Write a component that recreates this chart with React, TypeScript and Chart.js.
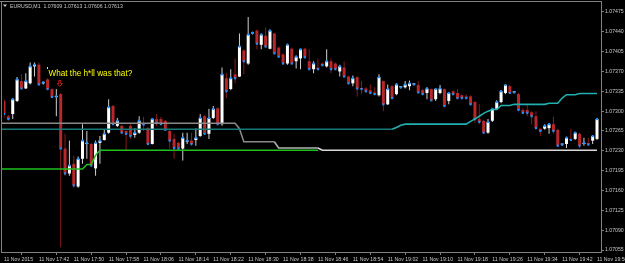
import React, { useEffect, useRef } from "react";
import { Chart, registerables } from "chart.js";

Chart.register(...registerables);

// ---- EURUSD M1 candles (bar 0 = 11 Nov 2015 17:34) ----
const candleOpen = [
  1.07318, 1.07291, 1.07295, 1.07318, 1.07353, 1.0734, 1.07349, 1.07379, 1.07382, 1.07349,
  1.07356, 1.07339, 1.07325, 1.0733, 1.07234, 1.0719, 1.07207, 1.07167, 1.07216, 1.07242,
  1.07242, 1.07199, 1.07244, 1.07249, 1.07262, 1.07309, 1.07274, 1.07274, 1.07265, 1.07274,
  1.07258, 1.07262, 1.07279, 1.0727, 1.07242, 1.07286, 1.07286, 1.07283, 1.07265, 1.07251,
  1.07244, 1.07234, 1.07246, 1.07248, 1.07249, 1.07256, 1.07291, 1.0726, 1.07288, 1.07305,
  1.07277, 1.07358, 1.07339, 1.07365, 1.07361, 1.07407, 1.07384, 1.07437, 1.07442, 1.07417,
  1.07433, 1.0741, 1.07437, 1.07412, 1.074, 1.07384, 1.0741, 1.07388, 1.07393, 1.0741,
  1.07388, 1.07374, 1.07377, 1.07384, 1.07379, 1.07388, 1.07384, 1.0737, 1.07377, 1.07361,
  1.07349, 1.0736, 1.0734, 1.0734, 1.07337, 1.07333, 1.07328, 1.07353, 1.07312, 1.07344,
  1.0733, 1.07342, 1.07342, 1.07344, 1.07347, 1.07346, 1.07337, 1.07332, 1.07339, 1.07321,
  1.07332, 1.07339, 1.07318, 1.07335, 1.07332, 1.07328, 1.07326, 1.07326, 1.07316, 1.07286,
  1.07283, 1.07262, 1.07283, 1.07304, 1.07316, 1.07332, 1.07344, 1.07333, 1.0733, 1.07302,
  1.07302, 1.07298, 1.07291, 1.07269, 1.07269, 1.0727, 1.07277, 1.07267, 1.07241, 1.07242,
  1.07251, 1.07251, 1.0726, 1.07242, 1.07244, 1.07248, 1.07251,
];
const candleHigh = [
  1.07321, 1.07293, 1.07323, 1.0736, 1.07365, 1.07367, 1.07386, 1.07386, 1.07386, 1.07351,
  1.07358, 1.0734, 1.07339, 1.07332, 1.0726, 1.07248, 1.07221, 1.0722, 1.07277, 1.07265,
  1.07244, 1.07248, 1.07256, 1.07267, 1.07321, 1.07311, 1.07288, 1.07276, 1.07267, 1.07277,
  1.0727, 1.07291, 1.0729, 1.07272, 1.07288, 1.07295, 1.0729, 1.07284, 1.07267, 1.0726,
  1.07246, 1.07262, 1.07262, 1.07262, 1.0727, 1.07295, 1.07293, 1.07304, 1.07309, 1.07307,
  1.07377, 1.07367, 1.07374, 1.07393, 1.07437, 1.07409, 1.07466, 1.0744, 1.07444, 1.07437,
  1.07447, 1.07444, 1.07438, 1.07414, 1.07402, 1.07419, 1.07412, 1.07398, 1.0741, 1.07412,
  1.07409, 1.07388, 1.07393, 1.07386, 1.07409, 1.07393, 1.07386, 1.07382, 1.07388, 1.07363,
  1.07363, 1.07361, 1.07353, 1.07342, 1.07347, 1.07342, 1.07365, 1.07354, 1.07347, 1.07346,
  1.07349, 1.07344, 1.07353, 1.07354, 1.07349, 1.07353, 1.07339, 1.07342, 1.0734, 1.0734,
  1.07346, 1.0734, 1.07332, 1.07337, 1.07339, 1.0733, 1.0733, 1.07328, 1.07318, 1.07312,
  1.07284, 1.07286, 1.07305, 1.07319, 1.07337, 1.07347, 1.07346, 1.07335, 1.07332, 1.07305,
  1.07312, 1.073, 1.073, 1.0727, 1.07277, 1.07279, 1.0729, 1.07269, 1.07242, 1.07255,
  1.07269, 1.07263, 1.07262, 1.07253, 1.07253, 1.07258, 1.07288,
];
const candleLow = [
  1.07288, 1.07283, 1.07286, 1.07316, 1.07339, 1.07339, 1.07347, 1.07361, 1.07346, 1.07347,
  1.07337, 1.07323, 1.07291, 1.0706, 1.07186, 1.07186, 1.07165, 1.07165, 1.07207, 1.07216,
  1.07202, 1.07186, 1.07207, 1.07248, 1.0726, 1.07276, 1.07272, 1.0726, 1.0723, 1.07251,
  1.07253, 1.0726, 1.07265, 1.07241, 1.07241, 1.07274, 1.07276, 1.07265, 1.07234, 1.07216,
  1.07232, 1.07213, 1.07242, 1.07239, 1.07239, 1.07255, 1.07258, 1.07251, 1.07286, 1.07276,
  1.07274, 1.07323, 1.07337, 1.07349, 1.0736, 1.07365, 1.07382, 1.07435, 1.07409, 1.07409,
  1.07412, 1.07409, 1.074, 1.07395, 1.07382, 1.07382, 1.07382, 1.07375, 1.07374, 1.07393,
  1.07372, 1.07367, 1.07372, 1.07379, 1.07377, 1.07367, 1.07372, 1.07361, 1.0736, 1.07347,
  1.07344, 1.07326, 1.0733, 1.07333, 1.0733, 1.07328, 1.07326, 1.073, 1.07311, 1.07321,
  1.07328, 1.0734, 1.0734, 1.07337, 1.07346, 1.07332, 1.07328, 1.07321, 1.07318, 1.07318,
  1.0733, 1.07307, 1.07312, 1.07328, 1.07321, 1.07321, 1.07321, 1.07311, 1.07279, 1.07277,
  1.0726, 1.0726, 1.07281, 1.07302, 1.07314, 1.0733, 1.0733, 1.07332, 1.073, 1.07295,
  1.07291, 1.07277, 1.07269, 1.07256, 1.07267, 1.0726, 1.0726, 1.07237, 1.07239, 1.07235,
  1.07248, 1.07249, 1.07235, 1.07239, 1.07239, 1.07242, 1.07249,
];
const candleClose = [
  1.07295, 1.07286, 1.07321, 1.07356, 1.0734, 1.07353, 1.07379, 1.07382, 1.07347, 1.07351,
  1.07339, 1.07325, 1.07326, 1.07234, 1.0719, 1.07204, 1.07169, 1.07216, 1.07248, 1.07244,
  1.07204, 1.07244, 1.07248, 1.0726, 1.07307, 1.07277, 1.07283, 1.07262, 1.0726, 1.07256,
  1.07262, 1.07283, 1.07276, 1.07242, 1.07286, 1.07279, 1.07277, 1.07267, 1.07248, 1.07235,
  1.07234, 1.07253, 1.07248, 1.07242, 1.07253, 1.07288, 1.0726, 1.07288, 1.07304, 1.07277,
  1.07365, 1.07335, 1.07358, 1.07358, 1.07414, 1.07388, 1.07435, 1.07438, 1.07419, 1.07435,
  1.07414, 1.07442, 1.07402, 1.07396, 1.07384, 1.07417, 1.07384, 1.07396, 1.07409, 1.07395,
  1.07374, 1.07384, 1.07374, 1.07381, 1.07388, 1.07374, 1.07374, 1.07379, 1.07361, 1.07349,
  1.07358, 1.0734, 1.07339, 1.07335, 1.07332, 1.0733, 1.0736, 1.07312, 1.07339, 1.07323,
  1.07347, 1.07342, 1.07347, 1.07349, 1.07347, 1.07333, 1.0733, 1.0734, 1.07319, 1.07339,
  1.0734, 1.07309, 1.07332, 1.0733, 1.07323, 1.07323, 1.07323, 1.07312, 1.07286, 1.07281,
  1.07262, 1.07281, 1.07304, 1.07316, 1.07335, 1.07346, 1.07332, 1.07333, 1.07302, 1.07297,
  1.07297, 1.07291, 1.0727, 1.07265, 1.07274, 1.07277, 1.07265, 1.07239, 1.07241, 1.07253,
  1.07249, 1.07262, 1.07239, 1.07244, 1.07241, 1.07256, 1.07286,
];

// ---- indicator lines (bar index, price) ----
const grayLineBars = [-1, 53, 54, 55, 62, 63, 72, 73, 136];
const grayLineValues = [1.072785, 1.072785, 1.07269, 1.07246, 1.07246, 1.07235, 1.07235, 1.07231, 1.07231];

const greenLineBars = [-1, 18, 19, 20, 21, 22, 72];
const greenLineValues = [1.07198, 1.07198, 1.07206, 1.07206, 1.07222, 1.07231, 1.07231];

const tealLineBars = [-1, 89, 90, 91, 92, 106, 107, 108, 109, 110, 111, 112, 113, 114, 116, 117, 124, 125, 127, 128, 129, 131, 132, 136];
const tealLineValues = [
  1.07268, 1.07268, 1.07271, 1.07275, 1.07277, 1.07277, 1.07282, 1.07286, 1.07291, 1.07296, 1.073, 1.07303,
  1.07303, 1.0731, 1.0731, 1.07312, 1.07312, 1.07314, 1.07314, 1.07323, 1.07329, 1.07329, 1.07331, 1.07331,
];

// ---- axes ----
const yTickValues = [1.07475, 1.0744, 1.07405, 1.0737, 1.07335, 1.073, 1.07265, 1.0723, 1.07195, 1.0716, 1.07125, 1.0709, 1.07055];
const xTickBars = [0, 8, 16, 24, 32, 40, 48, 56, 64, 72, 80, 88, 96, 104, 112, 120, 128, 136];
const xTickLabels = [
  "11 Nov 2015", "11 Nov 17:42", "11 Nov 17:50", "11 Nov 17:58", "11 Nov 18:06", "11 Nov 18:14",
  "11 Nov 18:22", "11 Nov 18:30", "11 Nov 18:38", "11 Nov 18:46", "11 Nov 18:54", "11 Nov 19:02",
  "11 Nov 19:10", "11 Nov 19:18", "11 Nov 19:26", "11 Nov 19:34", "11 Nov 19:42", "11 Nov 19:50",
];
const yMin = 1.070515;
const yMax = 1.07489;
const xMin = 0;
const xMax = 136.914;

const titleText = "EURUSD,M1  1.07609 1.07613 1.07606 1.07613";
const noteText = "What the h*ll was that?";
const noteBar = 10.2;
const notePrice = 1.07375;
const arrowBar = 12.8;
const arrowPrice = 1.07354;

const FONT = '"Liberation Sans", Arial, sans-serif';

export default function App() {
  const ref = useRef<HTMLCanvasElement | null>(null);

  useEffect(() => {
    document.body.style.margin = "0";
    document.body.style.background = "#000";
    const canvas = ref.current;
    if (!canvas) return;

    const bull = candleClose.map((c, i) => c >= candleOpen[i]);
    const wickData = candleLow.map((l, i) => ({ x: i, y: [l, candleHigh[i]] }));
    const bodyData = candleOpen.map((o, i) => ({ x: i, y: [o, candleClose[i]] }));
    const closeData = candleClose.map((c, i) => ({ x: i, y: c }));
    const toPts = (xs: number[], ys: number[]) => xs.map((x, i) => ({ x, y: ys[i] }));

    const mtPlugin = {
      id: "mt",
      beforeDraw(chart: any) {
        const { ctx, width, height } = chart;
        ctx.save();
        ctx.fillStyle = "#000";
        ctx.fillRect(0, 0, width, height);
        ctx.restore();
      },
      afterDatasetsDraw(chart: any) {
        const { ctx, scales } = chart;
        const xs = scales.x;
        const ys = scales.y;
        ctx.save();
        const nx = xs.getPixelForValue(noteBar);
        const ny = ys.getPixelForValue(notePrice);
        ctx.fillStyle = "#ffff00";
        ctx.fillRect(Math.round(nx) - 1, Math.round(ny) - 2, 1, 2);
        ctx.font = `8.2px ${FONT}`;
        ctx.textBaseline = "alphabetic";
        ctx.textAlign = "left";
        ctx.fillText(noteText, nx, ny + 7);

        const ax = xs.getPixelForValue(arrowBar);
        const ay = ys.getPixelForValue(arrowPrice);
        ctx.strokeStyle = "#c81e1e";
        ctx.lineWidth = 1;
        ctx.beginPath();
        ctx.moveTo(ax - 1, ay);
        ctx.lineTo(ax + 1, ay);
        ctx.lineTo(ax + 1, ay + 3);
        ctx.lineTo(ax + 2.5, ay + 3);
        ctx.lineTo(ax, ay + 6);
        ctx.lineTo(ax - 2.5, ay + 3);
        ctx.lineTo(ax - 1, ay + 3);
        ctx.closePath();
        ctx.stroke();
        ctx.restore();
      },
      afterDraw(chart: any) {
        const { ctx, chartArea: a } = chart;
        ctx.save();
        ctx.strokeStyle = "#808080";
        ctx.lineWidth = 1;
        ctx.beginPath();
        ctx.moveTo(0, 1.5);
        ctx.lineTo(a.right + 1, 1.5);
        ctx.moveTo(1.5, 1);
        ctx.lineTo(1.5, a.bottom + 1);
        ctx.moveTo(a.right + 0.5, 1);
        ctx.lineTo(a.right + 0.5, a.bottom + 1);
        ctx.moveTo(1, a.bottom + 0.5);
        ctx.lineTo(a.right + 1, a.bottom + 0.5);
        ctx.stroke();

        ctx.fillStyle = "#c8c8c8";
        ctx.beginPath();
        ctx.moveTo(3, 4.5);
        ctx.lineTo(7, 4.5);
        ctx.lineTo(5, 7);
        ctx.closePath();
        ctx.fill();
        ctx.font = `5.2px ${FONT}`;
        ctx.textBaseline = "alphabetic";
        ctx.textAlign = "left";
        ctx.fillText(titleText, 10, 7.6);
        ctx.restore();
      },
    };

    const chart = new Chart(canvas, {
      type: "bar",
      data: {
        datasets: [
          {
            type: "line",
            data: toPts(tealLineBars, tealLineValues),
            borderWidth: 1.6,
            pointRadius: 0,
            tension: 0,
            borderColor: "#20b0b0",
            segment: { borderColor: (c: any) => (c.p0.parsed.x < 89 ? "#177a7a" : "#20b0b0") },
            order: 0,
            clip: { left: 2, right: 0, top: 0, bottom: 0 },
          } as any,
          {
            type: "line",
            data: toPts(grayLineBars, grayLineValues),
            borderWidth: 1.5,
            pointRadius: 0,
            tension: 0,
            borderColor: "#8a8a8a",
            segment: {
              borderColor: (c: any) =>
                c.p0.parsed.x < 62 ? "#8a8a8a" : c.p0.parsed.x < 72 ? "#b4b4b4" : "#d8d8d8",
            },
            order: 0,
            clip: { left: 2, right: 0, top: 0, bottom: 0 },
          } as any,
          {
            type: "line",
            data: toPts(greenLineBars, greenLineValues),
            borderWidth: 1.5,
            pointRadius: 0,
            tension: 0,
            borderColor: "#1ec01e",
            order: 0,
            clip: { left: 2, right: 0, top: 0, bottom: 0 },
          } as any,
          {
            type: "scatter",
            data: closeData,
            pointStyle: "rect",
            pointRadius: 1.5,
            borderWidth: 0,
            backgroundColor: "#1e90ff",
            order: 1,
          } as any,
          {
            type: "bar",
            data: bodyData,
            backgroundColor: bull.map((b) => (b ? "#ffffff" : "#b8272b")),
            barThickness: 3,
            minBarLength: 1,
            grouped: false,
            borderWidth: 0,
            inflateAmount: 0,
            order: 2,
          } as any,
          {
            type: "bar",
            data: wickData,
            backgroundColor: bull.map((b) => (b ? "#d0d0d0" : "#8b1a1a")),
            barThickness: 1,
            grouped: false,
            borderWidth: 0,
            inflateAmount: 0,
            order: 3,
          } as any,
        ],
      },
      options: {
        responsive: false,
        animation: false,
        devicePixelRatio: 1,
        events: [],
        layout: { padding: { left: 2, top: 2, right: 0, bottom: 0 } },
        plugins: { legend: { display: false }, tooltip: { enabled: false }, title: { display: false } },
        scales: {
          x: {
            type: "linear",
            min: xMin,
            max: xMax,
            offset: false,
            border: { display: false },
            grid: { display: true, drawOnChartArea: false, drawTicks: true, tickLength: 3, color: "#808080" },
            afterBuildTicks: (s: any) => {
              s.ticks = xTickBars.map((v) => ({ value: v }));
            },
            afterFit: (s: any) => {
              s.height = 11;
              s.paddingLeft = 0;
              s.paddingRight = 0;
            },
            ticks: {
              autoSkip: false,
              maxRotation: 0,
              minRotation: 0,
              align: "start",
              padding: 1,
              color: "#c8c8c8",
              font: { family: FONT, size: 5.2 },
              callback: (v: any) => {
                const k = xTickBars.indexOf(Number(v));
                return k >= 0 ? xTickLabels[k] : "";
              },
            },
          },
          y: {
            type: "linear",
            position: "right",
            min: yMin,
            max: yMax,
            border: { display: false },
            grid: { display: true, drawOnChartArea: false, drawTicks: true, tickLength: 3, color: "#808080" },
            afterBuildTicks: (s: any) => {
              s.ticks = yTickValues.map((v) => ({ value: v }));
            },
            afterFit: (s: any) => {
              s.width = 24;
              s.paddingTop = 0;
              s.paddingBottom = 0;
            },
            ticks: {
              autoSkip: false,
              padding: 1,
              color: "#c8c8c8",
              font: { family: FONT, size: 5.2 },
              callback: (v: any) => Number(v).toFixed(5),
            },
          },
        },
      } as any,
      plugins: [mtPlugin],
    });

    return () => chart.destroy();
  }, []);

  return (
    <div style={{ position: "absolute", left: 0, top: 0, width: 625, height: 263, background: "#000" }}>
      <canvas ref={ref} width={625} height={263} style={{ display: "block", width: 625, height: 263 }} />
    </div>
  );
}
